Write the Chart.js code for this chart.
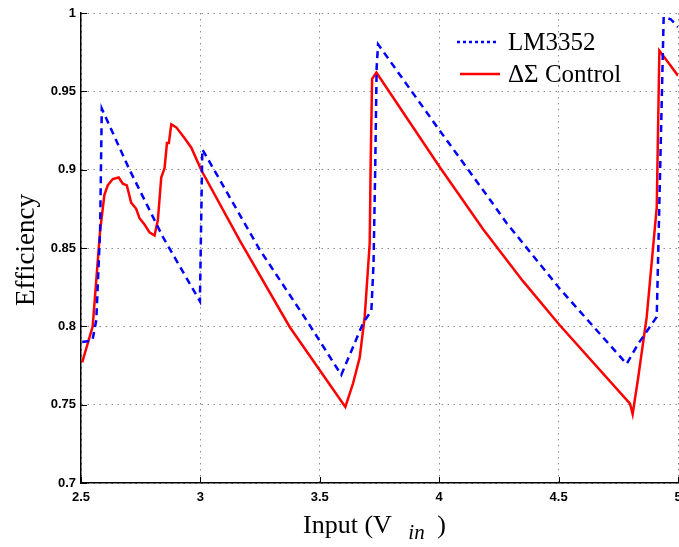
<!DOCTYPE html>
<html lang="en">
<head>
<meta charset="UTF-8" />
<title>Efficiency vs Input</title>
<script src="https://cdn.jsdelivr.net/npm/chart.js"></script>
<style>
  body { margin: 0; background: #fff; }
</style>
</head>
<body>
<canvas id="effChart" width="679" height="547"></canvas>
<script>
  // tick positions / labels
  const xTicks = [2.5, 3, 3.5, 4, 4.5, 5];
  const yTicks = [0.7, 0.75, 0.8, 0.85, 0.9, 0.95, 1];
  const seriesNames = ['LM3352', 'ΔΣ Control'];

  // LM3352 (blue dashed)
  const lmVin = [2.505, 2.548, 2.564, 2.58, 2.587, 2.703, 2.843, 2.998, 3.008, 3.248, 3.444, 3.59,
                 3.681, 3.716, 3.725, 3.732, 3.738, 3.744, 4.002, 4.212, 4.282, 4.505, 4.785,
                 4.834, 4.911, 4.94, 4.97, 5.0];
  const lmEff = [0.790, 0.791, 0.804, 0.861, 0.939, 0.900, 0.857, 0.816, 0.913, 0.849, 0.804, 0.769,
                 0.802, 0.810, 0.840, 0.900, 0.965, 0.980, 0.925, 0.881, 0.866, 0.824, 0.776,
                 0.789, 0.806, 0.9975, 0.996, 0.991];

  // Delta-Sigma control (red solid)
  const dsVin = [2.505, 2.549, 2.58, 2.598, 2.612, 2.633, 2.658, 2.675, 2.692, 2.71, 2.731, 2.745,
                 2.766, 2.787, 2.808, 2.822, 2.836, 2.85, 2.86, 2.868, 2.878, 2.899, 2.934, 2.962,
                 3.004, 3.164, 3.374, 3.607, 3.639, 3.667, 3.688, 3.709, 3.713, 3.719, 3.737,
                 4.002, 4.184, 4.35, 4.505, 4.799, 4.81, 4.834, 4.869, 4.911, 4.922, 5.0];
  const dsEff = [0.777, 0.800, 0.861, 0.884, 0.890, 0.894, 0.895, 0.891, 0.890, 0.879, 0.875, 0.869,
                 0.865, 0.860, 0.858, 0.868, 0.895, 0.901, 0.917, 0.917, 0.929, 0.927, 0.920, 0.914,
                 0.8996, 0.855, 0.7996, 0.7486, 0.7635, 0.780, 0.806, 0.853, 0.904, 0.958, 0.962,
                 0.9017, 0.862, 0.829, 0.8007, 0.7507, 0.744, 0.768, 0.806, 0.876, 0.976, 0.960];

  function toPoints(xs, ys) {
    return xs.map((x, i) => ({ x: x, y: ys[i] }));
  }

  const tickFont = { family: 'Liberation Sans, Arial, sans-serif', weight: 'bold', size: 13 };
  const serif = 'Liberation Serif, "Times New Roman", serif';

  // titles, legend and inward tick marks (MATLAB look)
  const decorPlugin = {
    id: 'decor',
    afterDraw(chart) {
      const ctx = chart.ctx;
      const area = chart.chartArea;
      const xs = chart.scales.x, ys = chart.scales.y;

      ctx.save();
      ctx.strokeStyle = '#000';
      ctx.lineWidth = 1;
      ctx.beginPath();
      xTicks.forEach(v => {
        const px = Math.round(xs.getPixelForValue(v)) + 0.5;
        ctx.moveTo(px, area.bottom);
        ctx.lineTo(px, area.bottom - 6);
      });
      yTicks.forEach(v => {
        const py = Math.round(ys.getPixelForValue(v)) + 0.5;
        ctx.moveTo(area.left, py);
        ctx.lineTo(area.left + 6, py);
      });
      ctx.stroke();

      // y title
      ctx.fillStyle = '#000';
      ctx.font = '27px ' + serif;
      ctx.textAlign = 'center';
      ctx.textBaseline = 'middle';
      ctx.save();
      ctx.translate(27, 250);
      ctx.rotate(-Math.PI / 2);
      ctx.fillText('Efficiency', 0, 0);
      ctx.restore();

      // x title: Input (V_in )
      ctx.textAlign = 'left';
      ctx.textBaseline = 'alphabetic';
      let tx = 303;
      const base = 533;
      ctx.font = '26px ' + serif;
      ctx.fillText('Input (V', tx, base);
      tx += ctx.measureText('Input (V ').width + 10;
      ctx.font = 'italic 21px ' + serif;
      ctx.fillText('in', tx, base + 6);
      tx += ctx.measureText('in').width;
      ctx.font = '26px ' + serif;
      ctx.fillText(' )', tx + 6, base);

      // legend
      const lx0 = area.right - 221, lx1 = area.right - 181, tx0 = area.right - 170;
      const rows = [area.top + 29, area.top + 61];
      ctx.lineWidth = 2.5;
      ctx.strokeStyle = '#0000ff';
      ctx.setLineDash([3, 3]);
      ctx.beginPath();
      ctx.moveTo(lx0, rows[0]); ctx.lineTo(lx1, rows[0]);
      ctx.stroke();
      ctx.setLineDash([]);
      ctx.strokeStyle = '#ff0000';
      ctx.beginPath();
      ctx.moveTo(lx0 + 3, rows[1]); ctx.lineTo(lx1 + 3, rows[1]);
      ctx.stroke();
      ctx.font = '25px ' + serif;
      ctx.textBaseline = 'middle';
      ctx.fillText(seriesNames[0], tx0, rows[0] + 1);
      ctx.fillText(seriesNames[1], tx0, rows[1] + 1);
      ctx.restore();
    }
  };

  new Chart(document.getElementById('effChart').getContext('2d'), {
    type: 'line',
    data: {
      datasets: [
        {
          label: seriesNames[0],
          data: toPoints(lmVin, lmEff),
          borderColor: '#0000ff',
          borderWidth: 2.5,
          borderDash: [7, 5],
          pointRadius: 0,
          fill: false,
          tension: 0
        },
        {
          label: seriesNames[1],
          data: toPoints(dsVin, dsEff),
          borderColor: '#ff0000',
          borderWidth: 2.5,
          pointRadius: 0,
          fill: false,
          tension: 0
        }
      ]
    },
    options: {
      responsive: false,
      animation: false,
      layout: { padding: { top: 13, right: 1, left: 0, bottom: 0 } },
      plugins: {
        legend: { display: false },
        tooltip: { enabled: false }
      },
      scales: {
        x: {
          type: 'linear',
          min: 2.5,
          max: 5,
          afterBuildTicks: s => { s.ticks = xTicks.map(v => ({ value: v })); },
          afterFit: s => { s.height = 64; s.paddingLeft = 0; s.paddingRight = 0; },
          ticks: { font: tickFont, color: '#000', padding: 7, maxRotation: 0, callback: v => String(v) },
          grid: { color: '#8c8c8c', lineWidth: 1, drawTicks: false },
          border: { color: '#000', width: 1.5, dash: [1.5, 4.5] }
        },
        y: {
          min: 0.7,
          max: 1,
          afterBuildTicks: s => { s.ticks = yTicks.map(v => ({ value: v })); },
          afterFit: s => { s.width = 81; s.paddingTop = 0; s.paddingBottom = 0; },
          ticks: { font: tickFont, color: '#000', padding: 5, callback: v => String(v) },
          grid: { color: '#8c8c8c', lineWidth: 1, drawTicks: false },
          border: { color: '#000', width: 1.5, dash: [1.5, 4.5] }
        }
      }
    },
    plugins: [decorPlugin]
  });
</script>
</body>
</html>
